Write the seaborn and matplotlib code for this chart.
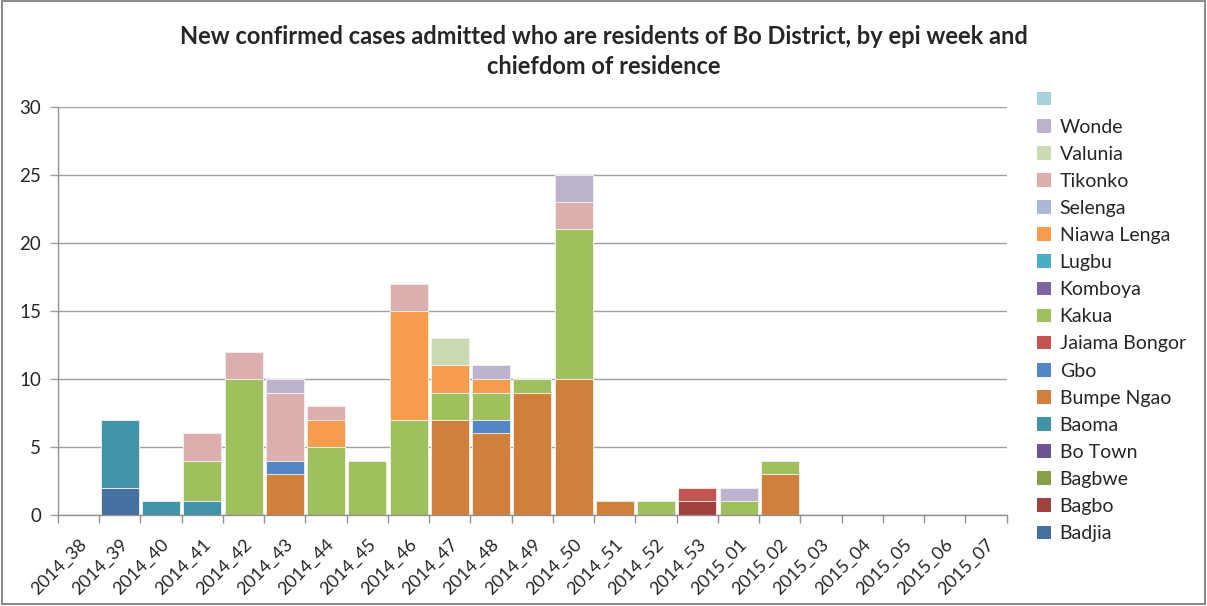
import matplotlib
matplotlib.use('Agg')
import matplotlib.pyplot as plt
from matplotlib.patches import Patch, Rectangle
import seaborn as sns
import pandas as pd
import numpy as np

weeks = ['2014_38', '2014_39', '2014_40', '2014_41', '2014_42', '2014_43', '2014_44',
         '2014_45', '2014_46', '2014_47', '2014_48', '2014_49', '2014_50', '2014_51',
         '2014_52', '2014_53', '2015_01', '2015_02', '2015_03', '2015_04', '2015_05',
         '2015_06', '2015_07']

# cases per chiefdom, one value per epi week (bottom of stack first)
badjia     = [0, 2, 0, 0, 0, 0, 0, 0, 0, 0, 0, 0, 0, 0, 0, 0, 0, 0, 0, 0, 0, 0, 0]
bagbo      = [0, 0, 0, 0, 0, 0, 0, 0, 0, 0, 0, 0, 0, 0, 0, 1, 0, 0, 0, 0, 0, 0, 0]
bagbwe     = [0, 0, 0, 0, 0, 0, 0, 0, 0, 0, 0, 0, 0, 0, 0, 0, 0, 0, 0, 0, 0, 0, 0]
bo_town    = [0, 0, 0, 0, 0, 0, 0, 0, 0, 0, 0, 0, 0, 0, 0, 0, 0, 0, 0, 0, 0, 0, 0]
baoma      = [0, 5, 1, 1, 0, 0, 0, 0, 0, 0, 0, 0, 0, 0, 0, 0, 0, 0, 0, 0, 0, 0, 0]
bumpe_ngao = [0, 0, 0, 0, 0, 3, 0, 0, 0, 7, 6, 9, 10, 1, 0, 0, 0, 3, 0, 0, 0, 0, 0]
gbo        = [0, 0, 0, 0, 0, 1, 0, 0, 0, 0, 1, 0, 0, 0, 0, 0, 0, 0, 0, 0, 0, 0, 0]
jaiama     = [0, 0, 0, 0, 0, 0, 0, 0, 0, 0, 0, 0, 0, 0, 0, 1, 0, 0, 0, 0, 0, 0, 0]
kakua      = [0, 0, 0, 3, 10, 0, 5, 4, 7, 2, 2, 1, 11, 0, 1, 0, 1, 1, 0, 0, 0, 0, 0]
komboya    = [0, 0, 0, 0, 0, 0, 0, 0, 0, 0, 0, 0, 0, 0, 0, 0, 0, 0, 0, 0, 0, 0, 0]
lugbu      = [0, 0, 0, 0, 0, 0, 0, 0, 0, 0, 0, 0, 0, 0, 0, 0, 0, 0, 0, 0, 0, 0, 0]
niawa      = [0, 0, 0, 0, 0, 0, 2, 0, 8, 2, 1, 0, 0, 0, 0, 0, 0, 0, 0, 0, 0, 0, 0]
selenga    = [0, 0, 0, 0, 0, 0, 0, 0, 0, 0, 0, 0, 0, 0, 0, 0, 0, 0, 0, 0, 0, 0, 0]
tikonko    = [0, 0, 0, 2, 2, 5, 1, 0, 2, 0, 0, 0, 2, 0, 0, 0, 0, 0, 0, 0, 0, 0, 0]
valunia    = [0, 0, 0, 0, 0, 0, 0, 0, 0, 2, 0, 0, 0, 0, 0, 0, 0, 0, 0, 0, 0, 0, 0]
wonde      = [0, 0, 0, 0, 0, 1, 0, 0, 0, 0, 1, 0, 2, 0, 0, 0, 1, 0, 0, 0, 0, 0, 0]
blank      = [0, 0, 0, 0, 0, 0, 0, 0, 0, 0, 0, 0, 0, 0, 0, 0, 0, 0, 0, 0, 0, 0, 0]

chiefdoms = ['Badjia', 'Bagbo', 'Bagbwe', 'Bo Town', 'Baoma', 'Bumpe Ngao', 'Gbo',
             'Jaiama Bongor', 'Kakua', 'Komboya', 'Lugbu', 'Niawa Lenga', 'Selenga',
             'Tikonko', 'Valunia', 'Wonde', '']
series = [badjia, bagbo, bagbwe, bo_town, baoma, bumpe_ngao, gbo, jaiama, kakua,
          komboya, lugbu, niawa, selenga, tikonko, valunia, wonde, blank]
colors = ['#46709F', '#A0403F', '#86A04A', '#6C5490', '#4194A8', '#D0803A', '#5087C4',
          '#C55351', '#A0C05E', '#8064A2', '#4BACC6', '#F79B4C', '#A9B9D6', '#DCAEAE',
          '#CBDAB2', '#BDB3CF', '#A8D0DE']

df = pd.DataFrame({name: vals for name, vals in zip(chiefdoms, series)}, index=weeks)
cum = df.cumsum(axis=1)

sns.set_theme(style='white')
plt.rcParams['font.family'] = ['Lato', 'DejaVu Sans']

fig = plt.figure(figsize=(12.07, 6.06), dpi=100)
ax = fig.add_axes([0.048, 0.150, 0.786, 0.6734])

# draw cumulative totals from the top of the stack down
for name, col in zip(reversed(chiefdoms), reversed(colors)):
    sns.barplot(x=weeks, y=cum[name].values, order=weeks, color=col, saturation=1,
                width=0.92, edgecolor='#f4f4f4', linewidth=0.6, ax=ax, errorbar=None)

ax.set_xlim(-0.5, len(weeks) - 0.5)
ax.set_ylim(0, 30)
ax.set_yticks(range(0, 31, 5))
ax.yaxis.grid(True, color='#a0a0a0', linewidth=1)
ax.set_axisbelow(True)
for s in ['top', 'right']:
    ax.spines[s].set_visible(False)
for s in ['left', 'bottom']:
    ax.spines[s].set_color('#909090')
    ax.spines[s].set_linewidth(1)
    ax.spines[s].set_zorder(5)

ax.tick_params(axis='y', length=6, width=1, color='#a0a0a0', direction='out',
               labelsize=13.5, pad=6, left=True)
ax.set_xticks(np.arange(len(weeks)))
ax.set_xticklabels(weeks, rotation=45, ha='right', rotation_mode='anchor', fontsize=13)
ax.tick_params(axis='x', length=0, pad=15)
ax.set_xticks(np.arange(len(weeks) + 1) - 0.5, minor=True)
ax.tick_params(axis='x', which='minor', length=6, width=1, color='#909090',
               direction='out', bottom=True)
for lab in ax.get_xticklabels():
    lab.set_color('#262626')
for lab in ax.get_yticklabels():
    lab.set_color('#262626')
ax.set_xlabel('')
ax.set_ylabel('')

fig.text(0.5, 0.915, 'New confirmed cases admitted who are residents of Bo District, by epi week and\nchiefdom of residence',
         ha='center', va='center', fontsize=17, fontweight='bold', linespacing=1.4)

handles = [Patch(facecolor=c, edgecolor='none', label=n)
           for n, c in zip(reversed(chiefdoms), reversed(colors))]
leg = fig.legend(handles=handles, loc='upper left', bbox_to_anchor=(0.853, 0.862),
                 frameon=False, fontsize=14, handlelength=0.7, handleheight=0.7,
                 handletextpad=0.45, labelspacing=0.52, borderaxespad=0)

fig.add_artist(Rectangle((0.002, 0.003), 0.996, 0.995, transform=fig.transFigure,
                         fill=False, edgecolor='#8c8c8c', linewidth=1.5))

fig.savefig('out.png', dpi=100)
